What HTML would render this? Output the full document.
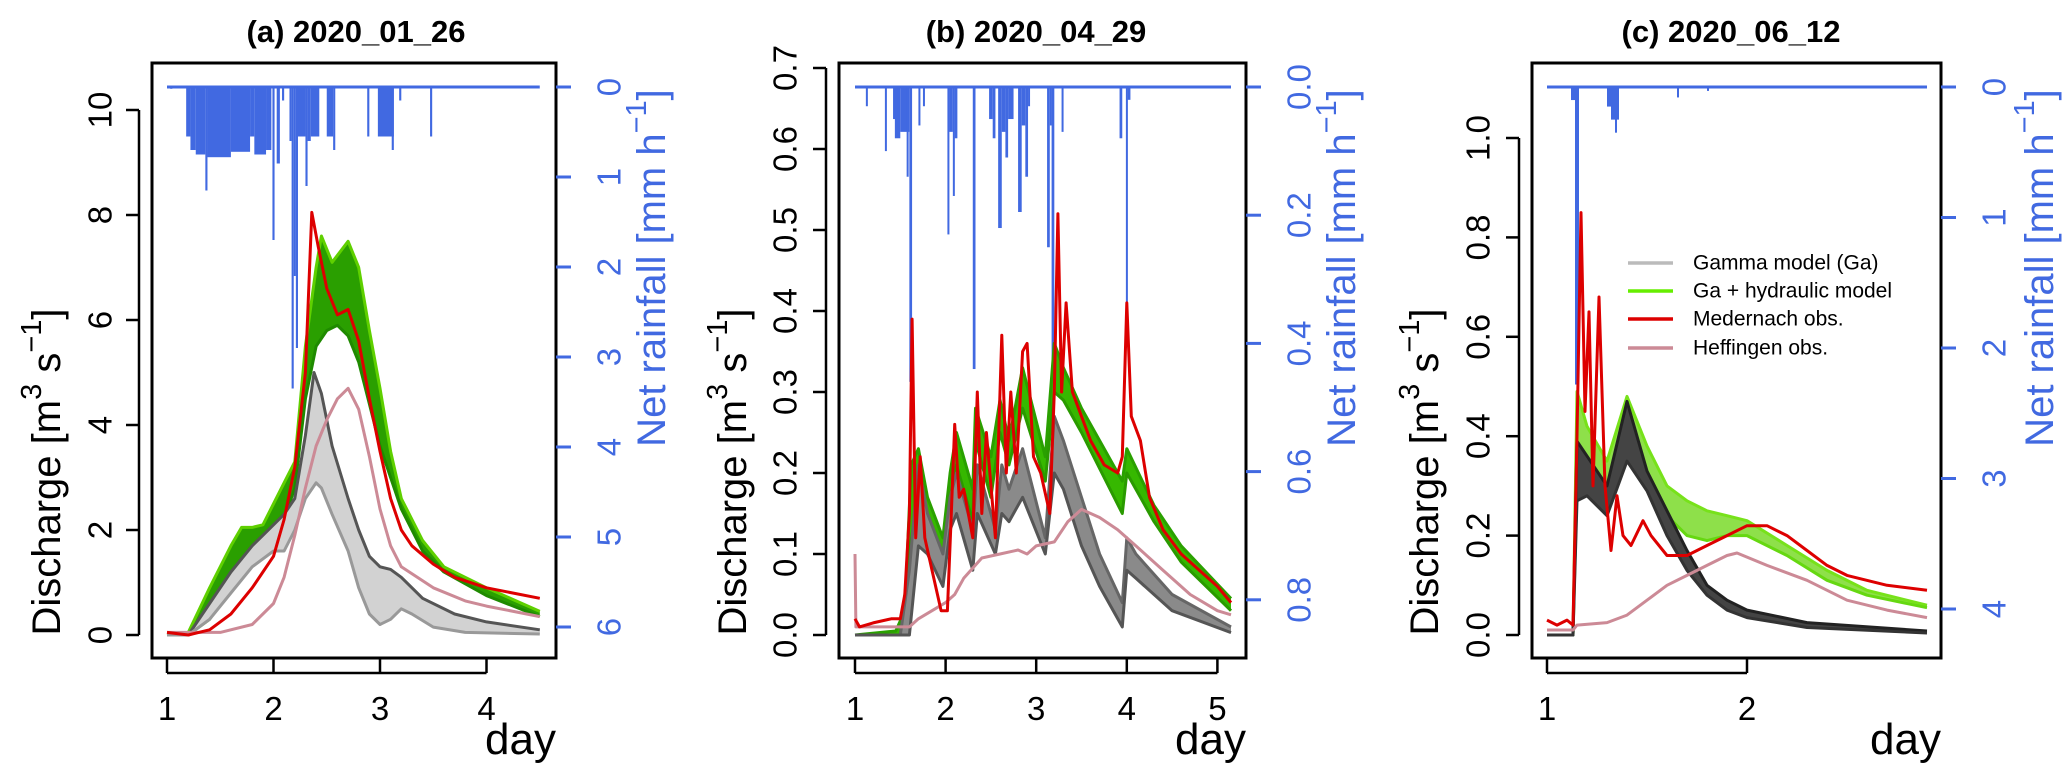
<!DOCTYPE html>
<html><head><meta charset="utf-8"><style>
html,body{margin:0;padding:0;background:#fff;}
svg{display:block;font-family:"Liberation Sans",sans-serif;}
</style></head><body>
<svg id="chart" width="2067" height="776" viewBox="0 0 2067 776" xmlns="http://www.w3.org/2000/svg"></svg>
<script>
// ---------- Panel A data ----------
const aRedX=[1.0,1.2,1.4,1.6,1.8,1.9,2.0,2.1,2.2,2.3,2.36,2.42,2.5,2.6,2.7,2.8,2.9,3.0,3.1,3.2,3.3,3.5,3.7,4.0,4.5];
const aRedY=[0.05,0.0,0.1,0.4,0.9,1.2,1.5,2.2,3.2,5.0,8.05,7.4,6.6,6.1,6.2,5.6,4.5,3.5,2.6,2.0,1.7,1.35,1.1,0.9,0.7];
const aPinkX=[1.0,1.5,1.8,2.0,2.1,2.2,2.3,2.4,2.5,2.6,2.7,2.8,2.9,3.0,3.1,3.2,3.5,3.8,4.0,4.5];
const aPinkY=[0.05,0.05,0.2,0.6,1.1,1.9,2.8,3.6,4.1,4.5,4.7,4.3,3.4,2.4,1.7,1.3,0.9,0.65,0.55,0.35];
const aGreenUX=[1.0,1.2,1.4,1.6,1.7,1.8,1.9,2.0,2.1,2.2,2.3,2.4,2.45,2.55,2.7,2.8,2.9,3.0,3.1,3.2,3.4,3.6,4.0,4.5];
const aGreenUY=[0,0.05,0.9,1.7,2.05,2.05,2.1,2.5,2.9,3.3,5.5,7.0,7.6,7.1,7.5,7.0,5.8,4.7,3.5,2.6,1.8,1.3,0.9,0.45];
const aGreenLX=[1.0,1.2,1.4,1.6,1.8,2.0,2.1,2.2,2.3,2.4,2.5,2.6,2.7,2.8,2.9,3.0,3.1,3.2,3.4,3.6,4.0,4.5];
const aGreenLY=[0,0,0.3,0.9,1.4,1.8,2.2,2.8,4.5,5.5,5.8,5.9,5.7,5.2,4.4,3.6,3.0,2.4,1.6,1.2,0.75,0.35];
const aGrayUX=[1.0,1.2,1.4,1.6,1.8,1.9,2.0,2.1,2.2,2.3,2.38,2.45,2.55,2.7,2.8,2.9,3.0,3.1,3.2,3.4,3.7,4.0,4.5];
const aGrayUY=[0,0,0.6,1.2,1.7,1.9,2.1,2.3,2.6,3.8,5.0,4.6,3.6,2.6,2.0,1.5,1.3,1.25,1.1,0.7,0.4,0.25,0.1];
const aGrayLX=[1.0,1.2,1.4,1.6,1.8,2.0,2.1,2.2,2.3,2.4,2.45,2.55,2.7,2.8,2.9,3.0,3.1,3.2,3.3,3.5,3.8,4.5];
const aGrayLY=[0,0,0.3,0.8,1.3,1.6,1.6,2.0,2.6,2.9,2.8,2.3,1.6,0.9,0.4,0.2,0.3,0.5,0.4,0.15,0.05,0.02];
const aRainStart=[1.03,1.18,1.22,1.27,1.36,1.38,1.6,1.78,1.82,1.93,1.99,2.03,2.08,2.15,2.17,2.19,2.21,2.23,2.3,2.32,2.35,2.5,2.56,2.88,2.98,3.11,3.18,3.47];
const aRainEnd=[1.05,1.22,1.27,1.36,1.38,1.6,1.78,1.82,1.93,1.98,2.01,2.06,2.1,2.17,2.19,2.21,2.23,2.3,2.32,2.35,2.43,2.56,2.58,2.9,3.13,3.13,3.2,3.49];
const aRainDepth=[0.02,0.55,0.7,0.75,1.15,0.78,0.72,0.55,0.75,0.7,1.7,0.85,0.15,0.6,3.35,2.1,2.9,0.55,1.1,0.6,0.55,0.55,0.7,0.55,0.55,0.7,0.15,0.55];
// ---------- Panel B data ----------
const bRedX=[1.0,1.05,1.2,1.4,1.5,1.55,1.6,1.63,1.67,1.72,1.77,1.85,1.95,2.02,2.06,2.1,2.15,2.2,2.25,2.3,2.35,2.4,2.45,2.55,2.62,2.67,2.72,2.78,2.85,2.9,2.97,3.05,3.15,3.2,3.24,3.28,3.33,3.4,3.5,3.6,3.75,3.9,3.95,4.0,4.05,4.15,4.25,4.4,4.6,4.8,5.0,5.15];
const bRedY=[0.02,0.01,0.015,0.02,0.02,0.05,0.15,0.39,0.12,0.22,0.12,0.08,0.03,0.03,0.14,0.26,0.17,0.18,0.15,0.12,0.3,0.15,0.25,0.12,0.37,0.2,0.3,0.2,0.35,0.36,0.22,0.2,0.15,0.3,0.52,0.3,0.41,0.3,0.27,0.24,0.21,0.2,0.22,0.41,0.27,0.24,0.17,0.13,0.1,0.08,0.06,0.04];
const bPinkX=[1.0,1.01,1.3,1.6,1.7,1.85,2.0,2.1,2.2,2.4,2.6,2.8,2.9,3.0,3.2,3.35,3.5,3.7,3.9,4.1,4.4,4.7,5.0,5.15];
const bPinkY=[0.1,0.01,0.01,0.01,0.02,0.03,0.04,0.05,0.07,0.095,0.1,0.105,0.1,0.11,0.115,0.14,0.155,0.145,0.13,0.11,0.08,0.05,0.03,0.025];
const bGreenUX=[1.0,1.45,1.55,1.62,1.7,1.8,1.97,2.05,2.12,2.3,2.33,2.5,2.6,2.7,2.85,3.1,3.2,3.3,3.5,3.95,4.0,4.3,4.6,5.15];
const bGreenUY=[0,0.005,0.03,0.21,0.23,0.17,0.12,0.2,0.25,0.18,0.28,0.22,0.29,0.24,0.33,0.22,0.36,0.33,0.28,0.19,0.23,0.16,0.11,0.045];
const bGreenLX=[1.0,1.5,1.6,1.7,1.85,1.97,2.05,2.12,2.3,2.33,2.5,2.6,2.7,2.85,3.1,3.2,3.3,3.5,3.95,4.0,4.3,4.6,5.15];
const bGreenLY=[0,0,0.1,0.18,0.13,0.09,0.17,0.21,0.14,0.24,0.17,0.25,0.21,0.28,0.19,0.3,0.29,0.25,0.15,0.2,0.14,0.09,0.03];
const bGrayUX=[1.0,1.5,1.6,1.7,1.8,1.97,2.05,2.12,2.3,2.35,2.55,2.62,2.7,2.85,3.1,3.2,3.3,3.5,3.7,3.95,4.0,4.1,4.5,5.15];
const bGrayUY=[0,0,0.08,0.21,0.15,0.1,0.17,0.2,0.13,0.21,0.13,0.21,0.18,0.23,0.12,0.27,0.24,0.17,0.1,0.04,0.12,0.1,0.05,0.01];
const bGrayLX=[1.0,1.6,1.7,1.8,1.97,2.05,2.12,2.3,2.35,2.55,2.62,2.7,2.85,3.1,3.2,3.3,3.5,3.7,3.95,4.0,4.1,4.5,5.15];
const bGrayLY=[0,0,0.11,0.1,0.06,0.13,0.15,0.08,0.15,0.1,0.15,0.14,0.17,0.1,0.2,0.18,0.11,0.06,0.01,0.08,0.07,0.03,0.003];
const bRainStart=[1.12,1.33,1.42,1.44,1.5,1.57,1.6,1.7,1.75,2.02,2.04,2.08,2.1,2.3,2.48,2.52,2.58,2.62,2.66,2.69,2.8,2.84,2.88,2.91,3.12,3.15,3.17,3.28,3.92,3.99,4.01];
const bRainEnd=[1.14,1.35,1.44,1.5,1.6,1.59,1.63,1.72,1.77,2.04,2.08,2.1,2.13,2.33,2.52,2.55,2.62,2.66,2.69,2.75,2.84,2.88,2.91,2.93,3.15,3.17,3.2,3.3,3.95,4.01,4.04];
const bRainDepth=[0.03,0.1,0.05,0.08,0.07,0.14,0.46,0.06,0.03,0.23,0.07,0.17,0.08,0.44,0.05,0.08,0.22,0.07,0.11,0.05,0.195,0.06,0.14,0.03,0.25,0.06,0.47,0.07,0.08,0.38,0.02];
// ---------- Panel C data ----------
const cRedX=[1.0,1.05,1.1,1.13,1.15,1.17,1.19,1.21,1.23,1.26,1.29,1.32,1.35,1.38,1.42,1.48,1.52,1.6,1.7,1.8,1.9,2.0,2.1,2.2,2.3,2.4,2.5,2.7,2.9];
const cRedY=[0.03,0.02,0.03,0.02,0.4,0.85,0.45,0.65,0.3,0.68,0.3,0.17,0.28,0.2,0.18,0.23,0.2,0.16,0.16,0.18,0.2,0.22,0.22,0.2,0.17,0.14,0.12,0.1,0.09];
const cPinkX=[1.0,1.13,1.15,1.3,1.4,1.5,1.6,1.7,1.8,1.9,1.95,2.1,2.3,2.5,2.7,2.9];
const cPinkY=[0.01,0.01,0.02,0.025,0.04,0.07,0.1,0.12,0.14,0.16,0.165,0.14,0.11,0.07,0.05,0.035];
const cGreenUX=[1.0,1.13,1.15,1.2,1.3,1.4,1.5,1.6,1.7,1.8,1.9,2.0,2.2,2.4,2.6,2.9];
const cGreenUY=[0,0,0.49,0.42,0.35,0.48,0.38,0.3,0.27,0.25,0.24,0.23,0.18,0.13,0.09,0.06];
const cGreenLX=[1.0,1.13,1.15,1.2,1.3,1.4,1.5,1.6,1.7,1.8,1.9,2.0,2.2,2.4,2.6,2.9];
const cGreenLY=[0,0,0.3,0.3,0.25,0.38,0.3,0.24,0.2,0.19,0.2,0.2,0.16,0.11,0.08,0.055];
const cGrayUX=[1.0,1.13,1.15,1.2,1.3,1.4,1.5,1.6,1.7,1.8,1.9,2.0,2.3,2.9];
const cGrayUY=[0,0,0.39,0.36,0.3,0.47,0.33,0.25,0.17,0.1,0.07,0.05,0.025,0.008];
const cGrayLX=[1.0,1.13,1.15,1.2,1.3,1.4,1.5,1.6,1.7,1.8,1.9,2.0,2.3,2.9];
const cGrayLY=[0,0,0.27,0.28,0.24,0.35,0.29,0.2,0.13,0.08,0.05,0.035,0.015,0.004];
const cRainStart=[1.12,1.14,1.3,1.32,1.34,1.65,1.8];
const cRainEnd=[1.15,1.16,1.32,1.36,1.35,1.66,1.81];
const cRainDepth=[0.1,2.28,0.15,0.25,0.35,0.08,0.03];
// ---------- Tick labels ----------
const aYTicks=[0,2,4,6,8,10]; const aRTicks=[0,1,2,3,4,5,6]; const aXTicks=[1,2,3,4];
const bYTicks=[0,0.1,0.2,0.3,0.4,0.5,0.6,0.7]; const bRTicks=[0,0.2,0.4,0.6,0.8]; const bXTicks=[1,2,3,4,5];
const cYTicks=[0,0.2,0.4,0.6,0.8,1.0]; const cRTicks=[0,1,2,3,4]; const cXTicks=[1,2];
const legendLabels=["Gamma model (Ga)","Ga + hydraulic model","Medernach obs.","Heffingen obs."];

const NS="http://www.w3.org/2000/svg";
const svg=document.getElementById('chart');
function mk(tag,attrs,parent){const e=document.createElementNS(NS,tag);for(const k in attrs)e.setAttribute(k,attrs[k]);(parent||svg).appendChild(e);return e;}
function txt(s,attrs,parent){const e=mk('text',attrs,parent);e.textContent=s;return e;}

const panels=[
 {id:'a',title:'(a) 2020_01_26',box:[152,556,63,658],x0:167,xs:106.5,xEnd:4.5,y0:635,ys:52.5,r0:87,rs:90,
  yT:aYTicks,yDec:0,rT:aRTicks,rDec:0,xT:aXTicks,ylx:100,yttl:47,rlx:609,rttl:652,tx:356,dayX:556,
  red:[aRedX,aRedY],pink:[aPinkX,aPinkY],gu:[aGreenUX,aGreenUY],gl:[aGreenLX,aGreenLY],ku:[aGrayUX,aGrayUY],kl:[aGrayLX,aGrayLY],
  rain:[aRainStart,aRainEnd,aRainDepth],gFill:'#2a9f00',gEdge:'#5fd000',gEdge2:'#1f8a00',kFill:'#d2d2d2',kEdge:'#555',kEdge2:'#999'},
 {id:'b',title:'(b) 2020_04_29',box:[839,1246,63,658],x0:855,xs:90.6,xEnd:5.15,y0:635,ys:810,r0:87,rs:641,
  yT:bYTicks,yDec:1,rT:bRTicks,rDec:1,xT:bXTicks,ylx:785,yttl:733,rlx:1299,rttl:1342,tx:1036,dayX:1246,
  red:[bRedX,bRedY],pink:[bPinkX,bPinkY],gu:[bGreenUX,bGreenUY],gl:[bGreenLX,bGreenLY],ku:[bGrayUX,bGrayUY],kl:[bGrayLX,bGrayLY],
  rain:[bRainStart,bRainEnd,bRainDepth],gFill:'#36b800',gEdge:'#2aa000',gEdge2:'#2a9a00',kFill:'#8a8a8a',kEdge:'#666',kEdge2:'#555'},
 {id:'c',title:'(c) 2020_06_12',box:[1532,1941,63,658],x0:1547,xs:200,xEnd:2.9,y0:635,ys:497,r0:87,rs:130.5,
  yT:cYTicks,yDec:1,rT:cRTicks,rDec:0,xT:cXTicks,ylx:1478,yttl:1425,rlx:1994,rttl:2040,tx:1731,dayX:1941,
  red:[cRedX,cRedY],pink:[cPinkX,cPinkY],gu:[cGreenUX,cGreenUY],gl:[cGreenLX,cGreenLY],ku:[cGrayUX,cGrayUY],kl:[cGrayLX,cGrayLY],
  rain:[cRainStart,cRainEnd,cRainDepth],gFill:'#8ee04a',gEdge:'#77e21a',gEdge2:'#66d811',kFill:'#444',kEdge:'#222',kEdge2:'#333'}
];

panels.forEach(p=>{
 const X=d=>p.x0+(d-1)*p.xs, Y=v=>p.y0-v*p.ys, R=v=>p.r0+v*p.rs;
 const g=mk('g',{});
 
 
 const [L,Rt,T,B]=p.box;
 const cid='clip'+p.id;
 const cp=mk('clipPath',{id:cid},g); mk('rect',{x:L,y:T,width:Rt-L,height:B-T},cp);
 const plot=mk('g',{'clip-path':'url(#'+cid+')'},g);
 const rg=mk('g',{},plot);
 
 
 mk('line',{x1:X(1),x2:X(p.xEnd),y1:R(0),y2:R(0),stroke:'#4169e1','stroke-width':3},rg);
 p.rain[0].forEach((s,i)=>{
  const r=mk('rect',{x:X(s),y:R(0),width:Math.max(2,X(p.rain[1][i])-X(s)),height:R(p.rain[2][i])-R(0),fill:'#4169e1'},rg);
  
  
 });
 const path=(xs,ys)=>xs.map((x,i)=>(i?'L':'M')+X(x).toFixed(1)+','+Y(ys[i]).toFixed(1)).join('');
 const band=(u,l,fill,e1,e2,name)=>{
  const bg=mk('g',{},plot);
  
  
  let d=path(u[0],u[1]);
  for(let j=l[0].length-1;j>=0;j--) d+='L'+X(l[0][j]).toFixed(1)+','+Y(l[1][j]).toFixed(1);
  d+='Z';
  mk('path',{d:d,fill:fill,stroke:'none'},bg);
  mk('path',{d:path(u[0],u[1]),fill:'none',stroke:e1,'stroke-width':3,'stroke-linejoin':'round'},bg);
  mk('path',{d:path(l[0],l[1]),fill:'none',stroke:e2,'stroke-width':3,'stroke-linejoin':'round'},bg);
 };
 band(p.gu,p.gl,p.gFill,p.gEdge,p.gEdge2,'ga-hydraulic-ensemble');
 band(p.ku,p.kl,p.kFill,p.kEdge,p.kEdge2,'gamma-model-ensemble');
 const pl=mk('path',{d:path(p.pink[0],p.pink[1]),fill:'none',stroke:'#cc8a96','stroke-width':3,'stroke-linejoin':'round'},plot);
 
 
 const rl=mk('path',{d:path(p.red[0],p.red[1]),fill:'none',stroke:'#dd0000','stroke-width':3,'stroke-linejoin':'round'},plot);
 
 
 const bx=mk('rect',{x:L,y:T,width:Rt-L,height:B-T,fill:'none',stroke:'#000','stroke-width':3},g);
 
 
 const ya=mk('g',{},g);
 
 
 mk('line',{x1:L-13,x2:L-13,y1:Y(p.yT[0]),y2:Y(p.yT[p.yT.length-1]),stroke:'#000','stroke-width':2.5},ya);
 p.yT.forEach(v=>{
  mk('line',{x1:L-13,x2:L-26,y1:Y(v),y2:Y(v),stroke:'#000','stroke-width':2.5},ya);
  const t=txt(v.toFixed(p.yDec),{x:p.ylx,y:Y(v),'font-size':33,'text-anchor':'middle','dominant-baseline':'central',transform:`rotate(-90 ${p.ylx} ${Y(v)})`,fill:'#000'},ya);
  
  
 });
 const yt=txt('',{x:p.yttl,y:472,'font-size':40,'text-anchor':'middle','dominant-baseline':'central',transform:`rotate(-90 ${p.yttl} 472)`,fill:'#000'},ya);
 yt.innerHTML='Discharge [m<tspan dy="-15" font-size="29">3</tspan><tspan dy="15"> s</tspan><tspan dy="-15" font-size="29">−1</tspan><tspan dy="15">]</tspan>';
 
 
 const ra=mk('g',{},g);
 
 
 p.rT.forEach(v=>{
  mk('line',{x1:Rt,x2:Rt+15,y1:R(v),y2:R(v),stroke:'#4169e1','stroke-width':3},ra);
  const t=txt(v.toFixed(p.rDec),{x:p.rlx,y:R(v),'font-size':33,'text-anchor':'middle','dominant-baseline':'central',transform:`rotate(-90 ${p.rlx} ${R(v)})`,fill:'#4169e1'},ra);
  
  
 });
 const rt=txt('',{x:p.rttl,y:268,'font-size':40,'text-anchor':'middle','dominant-baseline':'central',transform:`rotate(-90 ${p.rttl} 268)`,fill:'#4169e1'},ra);
 rt.innerHTML='Net rainfall [mm h<tspan dy="-15" font-size="29">−1</tspan><tspan dy="15">]</tspan>';
 
 
 const xa=mk('g',{},g);
 
 
 mk('line',{x1:X(p.xT[0]),x2:X(p.xT[p.xT.length-1]),y1:B+15,y2:B+15,stroke:'#000','stroke-width':2.5},xa);
 p.xT.forEach(v=>{
  mk('line',{x1:X(v),x2:X(v),y1:B,y2:B+15,stroke:'#000','stroke-width':2.5},xa);
  const t=txt(String(v),{x:X(v),y:720,'font-size':33,'text-anchor':'middle',fill:'#000'},xa);
  
  
 });
 const dl=txt('day',{x:p.dayX,y:754,'font-size':44,'text-anchor':'end',fill:'#000'},xa);
 
 
 const tt=txt(p.title,{x:p.tx,y:42,'font-size':31,'font-weight':'bold','text-anchor':'middle',fill:'#000'},g);
 
 
});

const lg=mk('g',{});


const legColors=['#bbbbbb','#66ee00','#dd0000','#cc8a96'];
const legY=[263,291,319,348];
legendLabels.forEach((s,i)=>{
 const e=mk('g',{},lg);
 
 
 mk('line',{x1:1628,x2:1673,y1:legY[i],y2:legY[i],stroke:legColors[i],'stroke-width':3.5},e);
 txt(s,{x:1693,y:legY[i],'font-size':21,'dominant-baseline':'central',fill:'#000'},e);
});
</script>
</body></html>
